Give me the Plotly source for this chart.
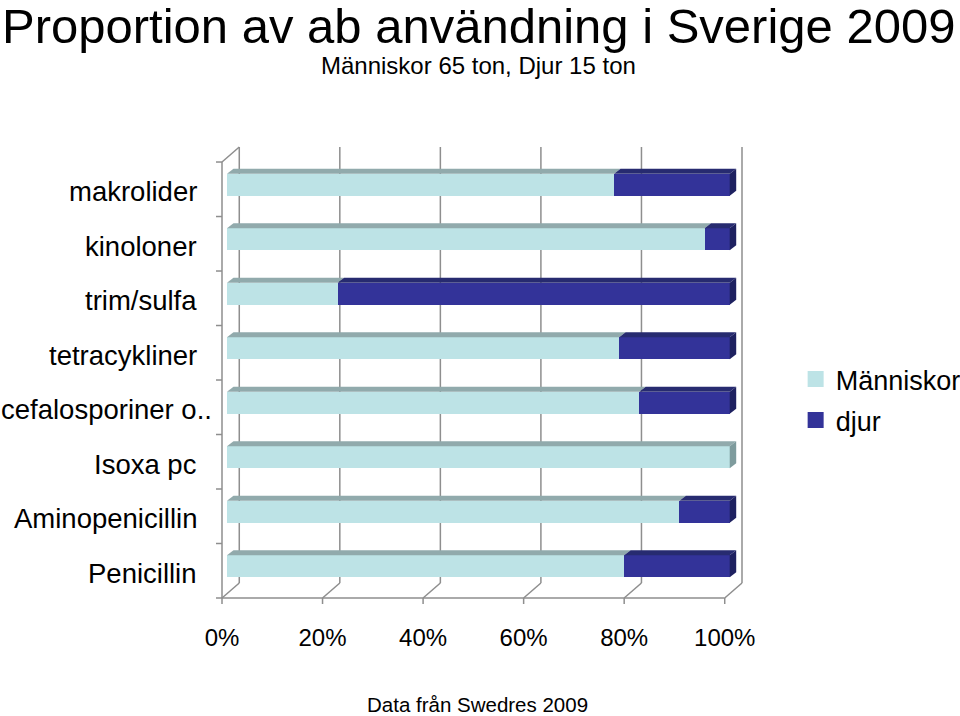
import plotly.graph_objects as go

# ---------------- data ----------------
categories = ["makrolider", "kinoloner", "trim/sulfa", "tetracykliner",
              "cefalosporiner o..", "Isoxa pc", "Aminopenicillin", "Penicillin"]
manniskor = [77, 95, 22, 78, 82, 100, 90, 79]
djur = [23, 5, 78, 22, 18, 0, 10, 21]
series_names = ["Människor", "djur"]
x_tick_values = [0, 20, 40, 60, 80, 100]
x_tick_labels = ["0%", "20%", "40%", "60%", "80%", "100%"]

title_text = "Proportion av ab användning i Sverige 2009"
subtitle_text = "Människor 65 ton, Djur 15 ton"
source_text = "Data från Swedres 2009"

# ---------------- style ----------------
FONT = "Liberation Sans, Arial, sans-serif"
front_colors = ["#BDE3E6", "#333399"]
top_colors = ["#91AAAC", "#272B70"]
side_colors = ["#7E9B9D", "#1E2160"]
GRID = "#8E8E8E"

W_PX, H_PX = 960, 716
PX_X = 5.033         # pixels per percent
PX_Y = 54.43         # pixels per category
BAR0_PX = 226.7      # x pixel of bar front at 0 %
CAT0_PX = 185.0      # y pixel of first bar centre

# depth offsets (pixels) relative to bar front plane
FX, FY = -5.0, 4.5     # front plane of the box
BX, BY = 6.5, -5.0     # bar depth
WX, WY = 12.3, -10.5   # back wall
BAR_H = 22.0
PAD = 3

FXd, FYd = FX / PX_X, FY / PX_Y
BXd, BYd = BX / PX_X, BY / PX_Y
WXd, WYd = WX / PX_X, WY / PX_Y
BAR_W = BAR_H / PX_Y

XMIN = FXd - PAD / PX_X
XMAX = 100 + WXd + PAD / PX_X
YTOP = -0.5 + WYd - PAD / PX_Y
YBOT = 7.5 + FYd + PAD / PX_Y

L = BAR0_PX + XMIN * PX_X
T = CAT0_PX + YTOP * PX_Y
PW = (XMAX - XMIN) * PX_X
PH = (YBOT - YTOP) * PX_Y
R = W_PX - L - PW
B = H_PX - T - PH


def fx(px):
    return (px - L) / PW


def fy(py):
    return 1 - (py - T) / PH


def dpx(xd):
    return (xd - XMIN) / (XMAX - XMIN)


def dpy(yd):
    return (YBOT - yd) / (YBOT - YTOP)


ypos = list(range(len(categories)))

fig = go.Figure()
series = [manniskor, djur]
for k, vals in enumerate(series):
    fig.add_trace(go.Bar(
        y=ypos, x=vals, orientation="h", width=BAR_W,
        marker=dict(color=front_colors[k], line=dict(width=0)),
        name=series_names[k], showlegend=False, hoverinfo="x+name",
    ))
# legend entries (square markers)
for k in range(2):
    fig.add_trace(go.Scatter(
        x=[None], y=[None], mode="markers", name=series_names[k],
        marker=dict(symbol="square", size=16, color=front_colors[k]),
        legendgroup=str(k),
    ))

shapes = []
line = dict(color=GRID, width=1.5)
y_wall_top = -0.5 + WYd
y_wall_bot = 7.5 + WYd
y_front_bot = 7.5 + FYd
y_front_top = -0.5 + FYd
# back-wall gridlines and floor slants
for v in x_tick_values:
    shapes.append(dict(type="line", xref="x", yref="y", layer="below",
                       x0=v + WXd, x1=v + WXd, y0=y_wall_top, y1=y_wall_bot, line=line))
    shapes.append(dict(type="line", xref="x", yref="y", layer="below",
                       x0=v + WXd, x1=v + FXd, y0=y_wall_bot, y1=y_front_bot, line=line))
# front-left wall edge + top slant
shapes.append(dict(type="line", xref="x", yref="y", layer="below",
                   x0=FXd, x1=FXd, y0=y_front_top, y1=y_front_bot, line=line))
shapes.append(dict(type="line", xref="x", yref="y", layer="below",
                   x0=FXd, x1=WXd, y0=y_front_top, y1=y_wall_top, line=line))
# front floor axis
shapes.append(dict(type="line", xref="x", yref="y", layer="below",
                   x0=FXd, x1=100 + FXd, y0=y_front_bot, y1=y_front_bot, line=line))
# y-axis tick marks (category boundaries) in paper coords
for kk in range(len(categories) + 1):
    yy = dpy(kk - 0.5 + FYd)
    shapes.append(dict(type="line", xref="paper", yref="paper",
                       x0=dpx(FXd) - 6 / PW, x1=dpx(FXd), y0=yy, y1=yy, line=line))
# x-axis tick marks
for v in x_tick_values:
    xx = dpx(v + FXd)
    shapes.append(dict(type="line", xref="paper", yref="paper",
                       x0=xx, x1=xx, y0=dpy(y_front_bot), y1=dpy(y_front_bot) - 6 / PH,
                       line=line))


def poly(pts):
    return "M " + " L ".join(f"{a},{b}" for a, b in pts) + " Z"


# 3D faces of bars
for i, y in enumerate(ypos):
    yt = y - BAR_W / 2
    yb = y + BAR_W / 2
    start = 0
    last_k = None
    for k, vals in enumerate(series):
        v = vals[i]
        if v <= 0:
            continue
        end = start + v
        shapes.append(dict(type="path", xref="x", yref="y", layer="above",
                           path=poly([(start, yt), (end, yt), (end + BXd, yt + BYd),
                                      (start + BXd, yt + BYd)]),
                           fillcolor=top_colors[k], line=dict(width=0)))
        start = end
        last_k = k
    shapes.append(dict(type="path", xref="x", yref="y", layer="above",
                       path=poly([(start, yt), (start + BXd, yt + BYd),
                                  (start + BXd, yb + BYd), (start, yb)]),
                       fillcolor=side_colors[last_k], line=dict(width=0)))

annotations = [
    dict(text=title_text, x=fx(478), y=fy(26), xref="paper", yref="paper",
         xanchor="center", yanchor="middle", showarrow=False,
         font=dict(family=FONT, size=49, color="#000")),
    dict(text=subtitle_text, x=fx(478), y=fy(66), xref="paper", yref="paper",
         xanchor="center", yanchor="middle", showarrow=False,
         font=dict(family=FONT, size=24, color="#000")),
    dict(text=source_text, x=fx(477), y=fy(704), xref="paper", yref="paper",
         xanchor="center", yanchor="middle", showarrow=False,
         font=dict(family=FONT, size=20.5, color="#000")),
]
for i, c in enumerate(categories):
    right_px = 214 if c.endswith("..") else 199
    annotations.append(dict(text=c, x=fx(right_px), y=dpy(i + FYd) - 2.5 / PH,
                            xref="paper", yref="paper", xanchor="right",
                            yanchor="middle", showarrow=False,
                            font=dict(family=FONT, size=27.5, color="#000")))

fig.update_layout(
    width=W_PX, height=H_PX,
    margin=dict(l=L, r=R, t=T, b=B, pad=0, autoexpand=False),
    paper_bgcolor="white", plot_bgcolor="white",
    barmode="stack", bargap=0,
    shapes=shapes, annotations=annotations,
    xaxis=dict(range=[XMIN, XMAX], showgrid=False, zeroline=False, showline=False,
               tickvals=[v + FXd for v in x_tick_values], ticktext=x_tick_labels,
               ticks="", ticklabelstandoff=20,
               tickfont=dict(family=FONT, size=24, color="#000"), fixedrange=True),
    yaxis=dict(range=[YBOT, YTOP], showgrid=False, zeroline=False, showline=False,
               showticklabels=False, ticks="", fixedrange=True),
    legend=dict(x=fx(796), y=fy(355), xanchor="left", yanchor="top",
                font=dict(family=FONT, size=27, color="#000"),
                traceorder="grouped", tracegroupgap=3, bgcolor="rgba(0,0,0,0)"),
)

fig.write_html("out.html", config={"displayModeBar": False},
               post_script="document.body.style.margin='0';"
                           "document.body.style.overflow='hidden';")
